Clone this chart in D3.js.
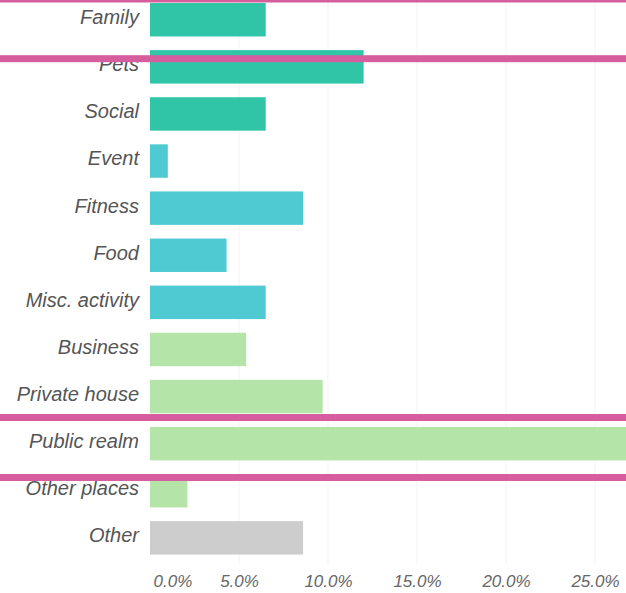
<!DOCTYPE html>
<html>
<head>
<meta charset="utf-8">
<script src="https://cdn.jsdelivr.net/npm/d3@7"></script>
<style>
  html, body { margin: 0; padding: 0; background: #fff; }
  svg { display: block; }
  .cat text { font-family: "Liberation Sans", Arial, Helvetica, sans-serif; font-style: italic; font-size: 20px; fill: #555; }
  .ticks text { font-family: "Liberation Sans", Arial, Helvetica, sans-serif; font-style: italic; font-size: 17px; fill: #666; }
</style>
</head>
<body>
<div id="chart"></div>
<script>
// Share of mentions by category (percent)
const categories = ["Family", "Pets", "Social", "Event", "Fitness", "Food",
  "Misc. activity", "Business", "Private house", "Public realm", "Other places", "Other"];
const values = [6.5, 12.0, 6.5, 1.0, 8.6, 4.3, 6.5, 5.4, 9.7, 28.0, 2.1, 8.6];
const groups = ["people", "people", "people", "activity", "activity", "activity",
  "activity", "place", "place", "place", "place", "other"];
const tickValues = [0, 5, 10, 15, 20, 25];
const tickLabels = ["0.0%", "5.0%", "10.0%", "15.0%", "20.0%", "25.0%"];

const groupColor = {
  people: "#31c5a8",
  activity: "#4fcad3",
  place: "#b5e4a9",
  other: "#cdcdcd"
};

const W = 626, H = 593;
const svg = d3.select("#chart").append("svg")
  .attr("width", W).attr("height", H);

const x = d3.scaleLinear().domain([0, 25]).range([150, 595]);
const y = d3.scaleBand().domain(categories)
  .range([-3.8, 561.4]).paddingInner(0.29).paddingOuter(0.145);

const rows = categories.map((c, i) => ({ cat: c, value: values[i], group: groups[i] }));

// faint vertical grid
svg.append("g").selectAll("line")
  .data(tickValues.slice(1))
  .join("line")
  .attr("x1", d => x(d)).attr("x2", d => x(d))
  .attr("y1", 0).attr("y2", 565)
  .attr("stroke", "#f9f9f9").attr("stroke-width", 2);

// bars
svg.append("g").selectAll("rect")
  .data(rows)
  .join("rect")
  .attr("x", x(0))
  .attr("y", d => y(d.cat))
  .attr("width", d => x(d.value) - x(0))
  .attr("height", y.bandwidth())
  .attr("fill", d => groupColor[d.group]);

// category axis
const yAxis = svg.append("g").attr("class", "cat")
  .attr("transform", `translate(${x(0)},0)`)
  .call(d3.axisLeft(y).tickSize(0).tickPadding(11));
yAxis.select(".domain").remove();
yAxis.selectAll("text").attr("dy", "0.22em");

// value axis
const xAxis = svg.append("g").attr("class", "ticks")
  .attr("transform", "translate(0,572)")
  .call(d3.axisBottom(x).tickValues(tickValues).tickSize(0).tickPadding(3)
    .tickFormat((d, i) => tickLabels[i]));
xAxis.select(".domain").remove();
xAxis.selectAll(".tick").filter(d => d === 0).select("text")
  .attr("text-anchor", "start").attr("dx", 3);

// highlight rules across the chart
const rules = [
  { top: -4.5, h: 7 },
  { top: 55.2, h: 7 },
  { top: 414, h: 7 },
  { top: 474, h: 7 }
];
svg.append("g").selectAll("rect")
  .data(rules)
  .join("rect")
  .attr("x", 0).attr("width", W)
  .attr("y", d => d.top).attr("height", d => d.h)
  .attr("fill", "#d65e9f");
</script>
</body>
</html>
